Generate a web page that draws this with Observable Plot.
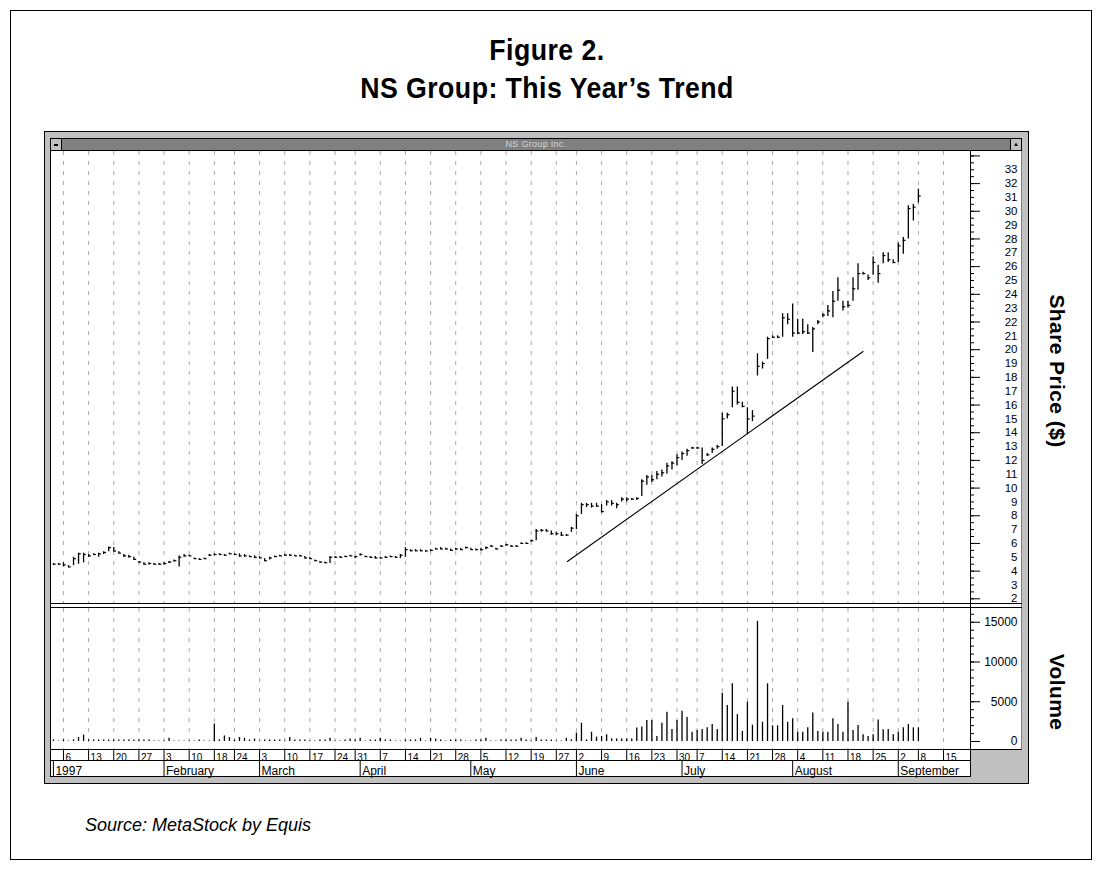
<!DOCTYPE html>
<html>
<head>
<meta charset="utf-8">
<script src="https://cdn.jsdelivr.net/npm/d3@7"></script>
<script src="https://cdn.jsdelivr.net/npm/@observablehq/plot@0.6"></script>
<style>
html,body{margin:0;padding:0;background:#fff;}
body{width:1102px;height:870px;position:relative;overflow:hidden;font-family:"Liberation Sans",Arial,sans-serif;}
.a{position:absolute;box-sizing:border-box;}
#frame{left:10px;top:10px;width:1082px;height:850px;border:1.5px solid #000;}
.ttl{left:0;width:1094px;text-align:center;font-family:"Liberation Sans",Arial,sans-serif;font-weight:bold;font-size:30px;line-height:30px;letter-spacing:0.5px;color:#000;white-space:nowrap;transform:scaleX(0.89);transform-origin:547px 0;}
#win{left:44px;top:131px;width:985px;height:653px;background:#c0c0c0;border:1px solid #000;}
#content{left:50px;top:150px;width:972px;height:600px;background:#fff;border-left:1px solid #000;border-right:1px solid #808080;border-bottom:1px solid #000;}
#tbar{left:50px;top:138px;width:972px;height:13px;background:#808080;border:1px solid #000;}
#tbtxt{left:436px;top:139px;width:200px;height:11px;text-align:center;font-size:9px;line-height:11px;color:#d4d4d4;letter-spacing:0.3px;}
#btnL{left:51px;top:139px;width:11px;height:11px;background:#c0c0c0;border-right:1px solid #000;}
#btnL i{position:absolute;left:3px;top:5px;width:4px;height:2px;background:#000;}
#btnR{left:1010px;top:139px;width:11px;height:11px;background:#c0c0c0;border-left:1px solid #000;font-size:6px;line-height:11px;text-align:center;color:#000;}
#strip{left:50px;top:749px;width:921px;height:28px;background:#fff;border:1px solid #000;}
#stripMid{left:50px;top:760px;width:921px;height:1px;background:#000;}
#axisLine{left:970px;top:150px;width:1px;height:600px;background:#000;}
.sep{left:50px;width:972px;height:1px;background:#000;}
.plot{position:absolute;}
.side{position:absolute;transform:translate(-50%,-50%);writing-mode:vertical-rl;font-family:"Liberation Sans",Arial,sans-serif;font-weight:bold;font-size:21px;letter-spacing:0.4px;color:#000;white-space:nowrap;}
#source{left:85px;top:816px;font-style:italic;font-size:18px;line-height:18px;color:#000;white-space:nowrap;}
</style>
</head>
<body>
<div id="frame" class="a"></div>
<div class="a ttl" style="top:34.6px">Figure 2.</div>
<div class="a ttl" style="top:72.6px">NS Group: This Year’s Trend</div>
<div id="win" class="a"></div>
<div id="content" class="a"></div>
<div id="pricePlot" class="plot" style="left:50px;top:151px;"></div>
<div id="volPlot" class="plot" style="left:50px;top:608px;"></div>
<div id="strip" class="a"></div>
<div id="datePlot" class="plot" style="left:50px;top:750px;"></div>
<div id="stripMid" class="a"></div>
<div id="axisLine" class="a"></div>
<div class="a sep" style="top:603px"></div>
<div class="a sep" style="top:607px"></div>
<div id="tbar" class="a"></div>
<div id="tbtxt" class="a">NS Group Inc.</div>
<div id="btnL" class="a"><i></i></div>
<div id="btnR" class="a">▲</div>
<div class="side" style="left:1057px;top:371px;">Share Price ($)</div>
<div class="side" style="left:1057px;top:692px;">Volume</div>
<div id="source" class="a">Source: MetaStock by Equis</div>
<script>
// ---- Daily data, trading days from Jan 2 1997 (index 0) to Sep 8 1997 (index 172) ----
const highs = [
  4.55,4.55,4.6,4.4,5.0,5.3,5.3,5.2,5.25,5.3,
  5.4,5.75,5.7,5.4,5.2,5.15,5.0,4.7,4.6,4.6,
  4.55,4.55,4.6,4.7,4.8,5.1,5.2,5.15,4.95,4.9,
  4.95,5.2,5.25,5.25,5.2,5.3,5.25,5.25,5.2,5.1,
  5.1,5.05,4.9,5.0,5.1,5.15,5.2,5.2,5.15,5.15,
  5.05,5.0,4.8,4.7,4.65,5.05,5.05,5.05,5.1,5.15,
  5.1,5.25,5.1,5.05,5.05,5.0,5.05,5.1,5.05,5.2,
  5.7,5.55,5.55,5.55,5.5,5.55,5.65,5.7,5.65,5.6,
  5.65,5.65,5.75,5.65,5.6,5.65,5.75,5.85,5.65,5.85,
  5.95,5.85,5.85,6.05,6.05,6.25,7.0,7.0,7.0,6.9,
  6.8,6.8,6.65,7.15,8.1,8.9,8.9,8.9,8.9,8.8,
  9.1,9.1,8.9,9.3,9.3,9.25,9.3,10.6,10.9,10.9,
  11.2,11.3,11.8,11.9,12.4,12.6,12.8,12.95,12.95,12.9,
  12.5,12.9,13.1,15.4,15.4,17.3,17.3,16.2,15.8,15.6,
  19.7,19.1,20.9,21.0,21.0,22.6,22.6,23.3,22.2,22.2,
  21.8,21.6,22.1,22.6,23.2,24.2,25.2,23.5,23.5,25.2,
  26.2,25.6,25.4,26.7,26.1,27.0,27.0,26.5,27.7,28.1,
  30.4,30.5,31.6
];
const lows = [
  4.45,4.45,4.3,4.25,4.4,4.5,4.6,5.0,5.15,5.0,
  5.2,5.4,5.4,5.25,5.0,4.95,4.8,4.6,4.45,4.45,
  4.45,4.45,4.45,4.55,4.65,4.3,5.0,5.05,4.85,4.8,
  4.85,5.05,5.1,5.15,5.1,5.2,5.15,5.0,5.0,5.0,
  4.9,4.9,4.7,4.8,5.0,5.05,5.1,5.1,5.05,5.05,
  4.9,4.85,4.7,4.6,4.55,4.55,4.95,4.95,5.0,5.05,
  4.9,5.1,5.0,4.95,4.9,4.9,4.95,5.0,4.95,4.9,
  5.0,5.4,5.4,5.4,5.4,5.4,5.55,5.55,5.55,5.45,
  5.5,5.5,5.6,5.5,5.5,5.45,5.55,5.75,5.55,5.75,
  5.8,5.75,5.75,5.95,5.95,6.1,6.2,6.8,6.85,6.6,
  6.55,6.5,6.5,6.8,7.0,8.1,8.6,8.55,8.6,8.2,
  8.7,8.7,8.5,9.0,9.0,9.1,9.1,9.4,10.2,10.4,
  10.6,10.8,11.0,11.3,11.6,12.0,12.3,12.8,12.8,11.7,
  12.3,12.5,12.8,13.0,15.0,15.8,16.0,15.8,13.9,14.8,
  18.1,18.6,19.3,20.8,20.8,20.9,21.8,20.9,21.1,21.1,
  21.1,19.8,21.8,22.3,22.4,22.3,23.5,22.8,23.0,23.5,
  24.3,25.4,25.0,25.4,24.8,26.2,26.3,26.2,26.3,26.9,
  28.0,29.3,30.6
];
const closes = [
  4.5,4.5,4.45,4.3,4.9,5.25,5.2,5.1,5.2,5.25,
  5.35,5.7,5.45,5.3,5.1,5.05,4.85,4.65,4.5,4.55,
  4.5,4.5,4.55,4.65,4.75,5.0,5.1,5.1,4.9,4.85,
  4.9,5.15,5.2,5.2,5.15,5.25,5.2,5.1,5.1,5.05,
  5.0,4.95,4.75,4.95,5.05,5.1,5.15,5.15,5.1,5.1,
  4.95,4.9,4.75,4.65,4.6,5.0,5.0,5.0,5.05,5.1,
  5.05,5.2,5.05,5.0,4.95,4.95,5.0,5.05,5.0,5.15,
  5.55,5.47,5.47,5.47,5.45,5.5,5.6,5.6,5.6,5.5,
  5.6,5.55,5.7,5.55,5.55,5.55,5.7,5.8,5.6,5.8,
  5.9,5.8,5.8,6.0,6.0,6.2,6.9,6.95,6.9,6.7,
  6.7,6.6,6.6,7.1,8.0,8.8,8.8,8.7,8.7,8.3,
  9.0,8.9,8.8,9.2,9.2,9.2,9.25,10.5,10.8,10.6,
  11.0,11.1,11.6,11.8,12.2,12.5,12.7,12.9,12.9,12.0,
  12.4,12.8,13.0,15.0,15.3,17.0,16.2,15.9,15.0,15.2,
  18.8,19.0,20.8,20.9,20.9,22.3,22.2,21.2,21.2,21.3,
  21.2,21.5,22.0,22.5,22.8,23.5,24.3,23.1,23.2,24.4,
  25.5,25.5,25.2,26.3,25.5,26.8,26.5,26.3,27.5,27.9,
  30.2,30.3,31.1
];
const volumes = [
  200,60,200,60,200,500,800,200,200,200,
  200,200,200,200,200,200,200,200,200,200,
  60,60,60,400,60,60,60,60,60,200,
  60,60,2200,200,700,500,200,500,400,200,
  300,60,200,200,200,200,60,500,200,200,
  200,60,60,200,200,400,60,60,200,300,
  200,400,60,200,200,400,200,200,60,60,
  200,200,200,400,60,400,300,200,60,200,
  200,200,60,60,200,200,400,60,60,200,
  200,200,200,400,200,60,500,200,200,200,
  60,60,400,200,1050,2300,200,1170,550,630,
  840,330,330,330,330,300,1700,1830,2640,2640,
  630,2300,3690,1520,2640,3820,3020,1170,1380,1520,
  1720,2140,1520,6080,4530,7250,3380,1260,4950,2050,
  15100,2420,7250,1970,1970,4530,2420,2850,1170,1170,
  1720,3600,1260,1170,1170,2850,2140,1170,4950,1380,
  2010,840,630,840,2720,1470,1520,840,1170,1720,
  2140,1720,1720
];
// Trend line drawn on the chart (trading-day index, price)
const trendDays = [102.2, 161.0];
const trendPrices = [4.7, 19.87];

// Calendar axis: first trading day of each week / month (trading-day index)
const weekStartDays = [2,7,12,17,22,27,32,36,41,46,51,56,60,65,70,75,80,85,90,95,100,104,109,114,119,124,128,133,138,143,148,153,158,163,168,172,177];
const weekLabels = ["6","13","20","27","3","10","18","24","3","10","17","24","31","7","14","21","28","5","12","19","27","2","9","16","23","30","7","14","21","28","4","11","18","25","2","8","15"];
const monthStartDays = [0,22,41,61,83,104,125,147,168];
const monthLabels = ["1997","February","March","April","May","June","July","August","September"];

// Axis tick values
const priceLabels = [2,3,4,5,6,7,8,9,10,11,12,13,14,15,16,17,18,19,20,21,22,23,24,25,26,27,28,29,30,31,32,33];
const priceMajorTicks = [2,4,6,8,10,12,14,16,18,20,22,24,26,28,30,32,34];
const priceMinorTicks = d3.range(2, 34.01, 0.5);
const volumeLabels = [0,5000,10000,15000];
const volumeMinorTicks = d3.range(0, 16001, 1000);

// ---- build tables ----
const bars = closes.map((c, i) => ({day: i, high: highs[i], low: lows[i], close: c, vol: volumes[i]}));
const trend = trendDays.map((d, k) => ({day: d, price: trendPrices[k]}));
const weeks = weekStartDays.map((d, k) => ({day: d, label: weekLabels[k]}));
const months = monthStartDays.map((d, k) => ({day: d, label: monthLabels[k]}));

const xOpts = {domain: [-0.577, 182.36], axis: null};
const baseStyle = {background: "transparent", fontFamily: "Liberation Sans, Arial, sans-serif", fontSize: "11.5px", color: "#000", overflow: "visible"};
const grid = {stroke: "#a8a8a8", strokeDasharray: "4,6", strokeWidth: 1};

const pricePlot = Plot.plot({
  width: 971, height: 452,
  marginLeft: 0, marginRight: 51, marginTop: 0, marginBottom: 0,
  x: xOpts,
  y: {domain: [1.6604, 34.319], label: null},
  style: baseStyle,
  marks: [
    Plot.ruleX(weekStartDays, grid),
    Plot.line(trend, {x: "day", y: "price", stroke: "#000", strokeWidth: 1.1}),
    Plot.ruleX(bars, {x: "day", y1: "low", y2: "high", stroke: "#000", strokeWidth: 1.3}),
    Plot.ruleY(bars, {y: "close", x1: "day", x2: d => d.day + 0.55, stroke: "#000", strokeWidth: 1.2}),
    Plot.axisY(priceMinorTicks, {anchor: "right", tickSize: 3, fill: "none", label: null}),
    Plot.axisY(priceMajorTicks, {anchor: "right", tickSize: 9, fill: "none", label: null}),
    Plot.axisY(priceLabels, {anchor: "right", tickSize: 0, tickPadding: 47, textAnchor: "end", fontSize: 11.5, label: null})
  ]
});
document.getElementById("pricePlot").append(pricePlot);

const volPlot = Plot.plot({
  width: 971, height: 142,
  marginLeft: 0, marginRight: 51, marginTop: 0, marginBottom: 0,
  x: xOpts,
  y: {domain: [-1132, 16730], label: null},
  style: baseStyle,
  marks: [
    Plot.ruleX(weekStartDays, grid),
    Plot.ruleX(bars, {x: "day", y1: 0, y2: "vol", stroke: "#000", strokeWidth: 1.3}),
    Plot.axisY(volumeMinorTicks, {anchor: "right", tickSize: 3, fill: "none", label: null}),
    Plot.axisY(volumeLabels, {anchor: "right", tickSize: 9, fill: "none", label: null}),
    Plot.axisY(volumeLabels, {anchor: "right", tickSize: 0, tickPadding: 47, textAnchor: "end", fontSize: 12, label: null, tickFormat: d3.format("d")})
  ]
});
document.getElementById("volPlot").append(volPlot);

const datePlot = Plot.plot({
  width: 920, height: 26,
  marginLeft: 0, marginRight: 0, marginTop: 0, marginBottom: 0,
  x: xOpts,
  style: baseStyle,
  marks: [
    Plot.ruleX(weekStartDays, {insetBottom: 15, stroke: "#000", strokeWidth: 1}),
    Plot.text(weeks, {x: "day", text: "label", frameAnchor: "top", lineAnchor: "bottom", dy: 10.5, dx: 2, textAnchor: "start", fontSize: 10}),
    Plot.ruleX(monthStartDays, {insetTop: 11, stroke: "#000", strokeWidth: 1}),
    Plot.text(months, {x: "day", text: "label", frameAnchor: "top", lineAnchor: "bottom", dy: 24, dx: 2, textAnchor: "start", fontSize: 12})
  ]
});
document.getElementById("datePlot").append(datePlot);
</script>
</body>
</html>
